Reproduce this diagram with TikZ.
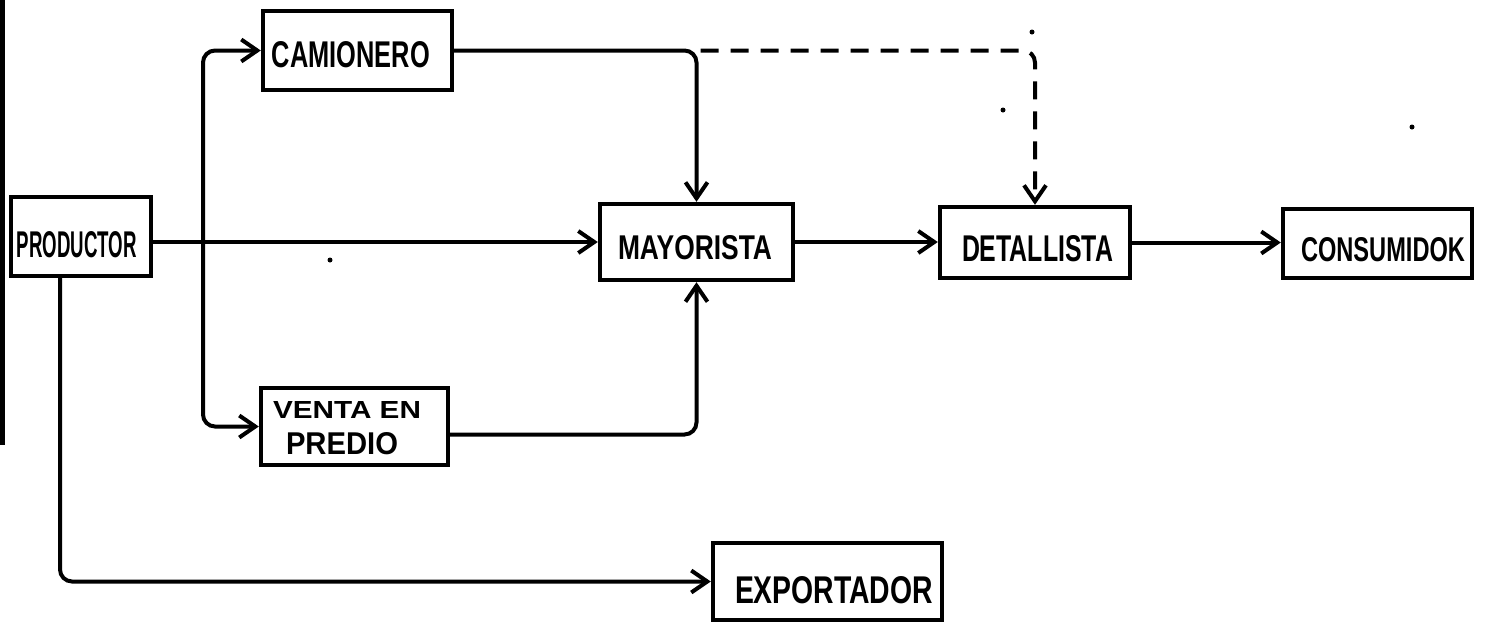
\documentclass[tikz,border=0pt]{standalone}
\usepackage{fontspec}
\setmainfont{Liberation Sans}
\usetikzlibrary{arrows.meta}
\newcommand\hw[3]{\resizebox{#1}{#2}{\bfseries #3}}
\begin{document}
\begin{tikzpicture}[x=0.5pt,y=-0.5pt,
  box/.style={draw, line width=2.2pt, inner sep=0pt},
  lbl/.style={inner sep=0pt, font=\fontsize{18}{18}\selectfont},
  arr/.style={line width=2pt, rounded corners=6pt, -{Straight Barb[length=8pt,width=11pt,line width=2pt]}},
  dsh/.style={arr, dash pattern=on 9pt off 6pt},
  speck/.style={fill, circle, inner sep=0pt, minimum size=2.5pt}]
\useasboundingbox (0,0) rectangle (1485,623);
\fill (0,0) rectangle (5,445);

\node[box, minimum width=70pt, minimum height=39.5pt] (prod) at (81,236.5) {};
\node[box, minimum width=94.5pt, minimum height=39.5pt] (cam) at (357.5,50.5) {};
\node[box, minimum width=93.5pt, minimum height=38.5pt] (venta) at (354.5,426.5) {};
\node[box, minimum width=96.5pt, minimum height=38pt] (may) at (696.5,242) {};
\node[box, minimum width=95pt, minimum height=35.5pt] (det) at (1035,242.5) {};
\node[box, minimum width=94.5pt, minimum height=34.5pt] (cons) at (1377.5,243.5) {};
\node[box, minimum width=114.5pt, minimum height=38.5pt] (exp) at (827.5,581.5) {};

\node[lbl] (prodt) at (77,245) {\hw{60pt}{13pt}{PRODUCTOR}};
\node[lbl] (camt) at (351,55) {\hw{79pt}{13pt}{CAMIONERO}};
\node[lbl] (ventat1) at (347,410) {\hw{74pt}{8.5pt}{VENTA EN}};
\node[lbl] (ventat2) at (342,444) {\hw{56pt}{11pt}{PREDIO}};
\node[lbl] (mayt) at (695,248) {\hw{77pt}{12pt}{MAYORISTA}};
\node[lbl] (dett) at (1037.5,248.5) {\hw{75.5pt}{13pt}{DETALLISTA}};
\node[lbl] (const) at (1383,250) {\hw{82pt}{12pt}{CONSUMIDOK}};
\node[lbl] (expt) at (834,590) {\hw{99pt}{13.5pt}{EXPORTADOR}};

\coordinate (b) at (203,242);
\coordinate (j1) at (may.north |- cam.east);

\draw[arr] (prod.east |- may.west) -- (may.west);
\draw[arr] (b) |- (cam.west);
\draw[arr] (b) |- (venta.west);
\draw[arr] (cam.east) -| (may.north);
\draw[arr] ([yshift=-4pt]venta.east) -| (may.south);
\draw[dsh] ([xshift=2pt]j1) -| (det.north);
\draw[arr] (may.east) -- (det.west |- may.east);
\draw[arr] (det.east) -- (cons.west |- det.east);
\draw[arr] ([xshift=-10.5pt]prod.south) |- (exp.west);

\node[speck] (s1) at (330,260) {};
\node[speck] (s2) at (1032,32) {};
\node[speck] (s3) at (1003,110) {};
\node[speck] (s4) at (1412,127) {};
\end{tikzpicture}
\end{document}
